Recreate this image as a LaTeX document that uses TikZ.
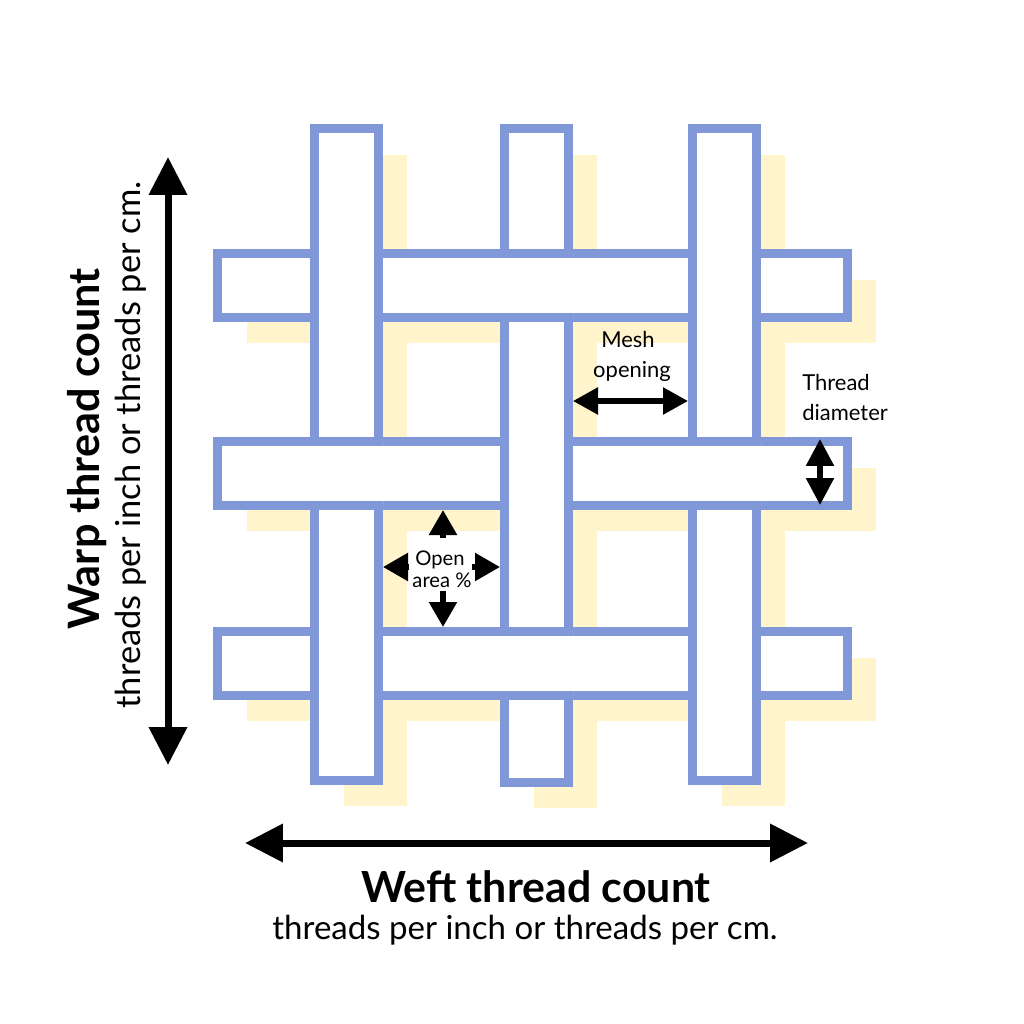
\documentclass[tikz,border=0pt]{standalone}
\usepackage{fontspec}
\setmainfont{Lato}
\usetikzlibrary{arrows.meta}
\definecolor{mblue}{RGB}{128,152,216}
\definecolor{myel}{RGB}{255,244,204}
\tikzset{
  thread/.style={draw=mblue, fill=white, line width=0.18cm},
  shadowrect/.style={fill=myel, draw=none},
  bigarrow/.style={line width=0.14cm, {Triangle[length=0.76cm,width=0.74cm]}-{Triangle[length=0.76cm,width=0.74cm]}},
  midarrow/.style={line width=0.11cm, {Triangle[length=0.5cm,width=0.52cm]}-{Triangle[length=0.5cm,width=0.52cm]}},
  onearrow/.style={line width=0.11cm, -{Triangle[length=0.5cm,width=0.54cm]}},
  lbl/.style={inner sep=0pt, font=\fontsize{12.5pt}{14pt}\selectfont},
  olbl/.style={inner sep=0pt, font=\fontsize{11.5pt}{13pt}\selectfont}
}
\begin{document}
\begin{tikzpicture}[x=0.02cm, y=-0.02cm]
\useasboundingbox (0,0) rectangle (1024,1024);
% shadows
\foreach \vx/\vb in {310/785, 500/787, 688/785}{
  \fill[shadowrect] (\vx+34,155) rectangle (\vx+97,\vb+21);
}
\foreach \ry in {249, 437, 627}{
  \fill[shadowrect] (247,\ry+31) rectangle (876,\ry+94);
}
% rows (weft)
\foreach \ry in {249, 437, 627}{
  \draw[thread] (217.5,\ry+4.5) rectangle (847.5,\ry+68.5);
}
% columns (warp)
\foreach \vx/\vb in {310/785, 500/787, 688/785}{
  \draw[thread] (\vx+4.5,128.5) rectangle (\vx+68.5,\vb-4.5);
}
% rows passing over columns
\foreach \vx/\ry in {500/249, 310/437, 688/437, 500/627}{
  \begin{scope}
    \clip (\vx,\ry-12) rectangle (\vx+73,\ry+85);
    \draw[thread] (217.5,\ry+4.5) rectangle (847.5,\ry+68.5);
  \end{scope}
}
% warp arrow and labels
\coordinate (wt) at (168,157);
\coordinate (wb) at (168,765);
\draw[bigarrow] (wt) -- (wb);
\node[rotate=90, inner sep=0pt, font=\fontsize{24.6pt}{27pt}\selectfont\bfseries] (warp) at (87,449) {Warp thread count};
\node[rotate=90, inner sep=0pt, font=\fontsize{19.6pt}{22pt}\selectfont] (warpsub) at (131,445) {threads per inch or threads per cm.};
% weft arrow and labels
\coordinate (fl) at (245,843);
\coordinate (fr) at (808,843);
\draw[bigarrow] (fl) -- (fr);
\node[inner sep=0pt, font=\fontsize{24.4pt}{27pt}\selectfont\bfseries] (weft) at (536,887) {Weft thread count};
\node[inner sep=0pt, font=\fontsize{18.8pt}{21pt}\selectfont] (weftsub) at (525,930) {threads per inch or threads per cm.};
% mesh opening
\node[lbl, anchor=base] (mesh1) at (628,347) {Mesh};
\node[lbl, anchor=base] (mesh2) at (632,377) {opening};
\coordinate (ml) at (573,401);
\coordinate (mr) at (688,401);
\draw[midarrow] (ml) -- (mr);
% thread diameter
\node[lbl, anchor=base west] (td1) at (802,390) {Thread};
\node[lbl, anchor=base west] (td2) at (802,420) {diameter};
\coordinate (dt) at (820,439);
\coordinate (db) at (820,505);
\draw[line width=0.11cm, {Triangle[length=0.54cm,width=0.54cm]}-{Triangle[length=0.54cm,width=0.54cm]}] (dt) -- (db);
% open area
\node[olbl, anchor=base] (oa1) at (440,565) {Open};
\node[olbl, anchor=base] (oa2) at (442,587) {area \%};
\coordinate (ou0) at (443,538);
\coordinate (ou1) at (443,510);
\coordinate (od0) at (443,591);
\coordinate (od1) at (443,627);
\coordinate (ol0) at (409,567);
\coordinate (ol1) at (383,567);
\coordinate (or0) at (472,567);
\coordinate (or1) at (500,567);
\draw[onearrow] (ou0) -- (ou1);
\draw[onearrow] (od0) -- (od1);
\draw[onearrow] (ol0) -- (ol1);
\draw[onearrow] (or0) -- (or1);
\end{tikzpicture}
\end{document}
